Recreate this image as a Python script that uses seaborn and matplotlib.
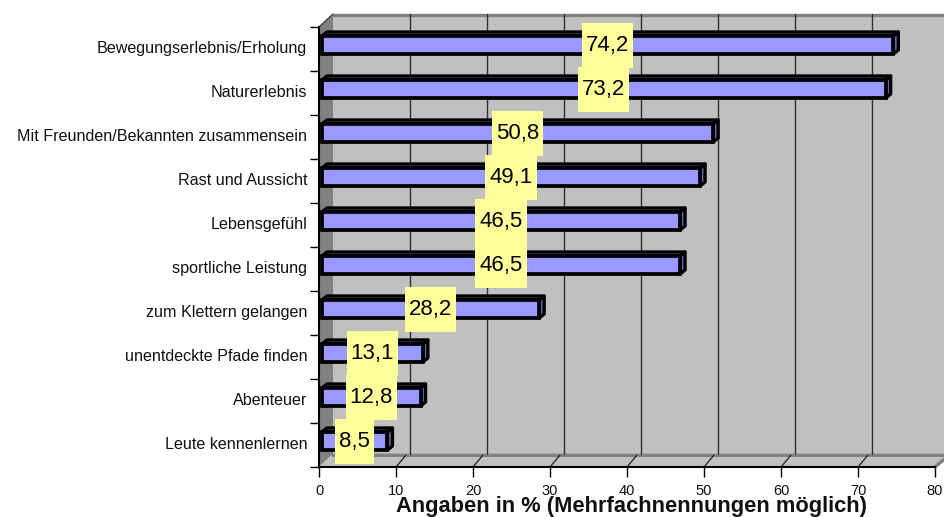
import matplotlib
matplotlib.use("Agg")
import matplotlib.pyplot as plt
from matplotlib.patches import Polygon, Rectangle
from matplotlib.transforms import IdentityTransform, ScaledTranslation
import pandas as pd
import seaborn as sns

# Data
categories = ["Bewegungserlebnis/Erholung", "Naturerlebnis",
              "Mit Freunden/Bekannten zusammensein", "Rast und Aussicht",
              "Lebensgefühl", "sportliche Leistung", "zum Klettern gelangen",
              "unentdeckte Pfade finden", "Abenteuer", "Leute kennenlernen"]
values = [74.2, 73.2, 50.8, 49.1, 46.5, 46.5, 28.2, 13.1, 12.8, 8.5]
x_ticks = [0, 10, 20, 30, 40, 50, 60, 70, 80]
x_title = "Angaben in % (Mehrfachnennungen möglich)"

sns.set_theme(style="white")
plt.rcParams["font.family"] = ["Liberation Sans", "DejaVu Sans"]

W, H = 944, 517
fig = plt.figure(figsize=(W / 100, H / 100), dpi=100)
ax = fig.add_axes([319 / W, 1 - 467 / H, 616 / W, 440 / H])

df = pd.DataFrame({"cat": categories, "val": values})
sns.barplot(data=df, y="cat", x="val", color="#9999FF", saturation=1, width=18 / 44,
            edgecolor="black", linewidth=2.7, ax=ax, zorder=5)
ax.set_xlim(0, 80)
ax.set_ylim(len(categories) - 0.5, -0.5)

# pixel sizes of the fake 3D look, converted to data units
ux, uy = 7.7, 44
wall_dx, wall_dy = 14 / ux, 13 / uy
bar_shift, bar_up = 3 / ux, 4 / uy
bar_dx, bar_dy = 5 / ux, 4 / uy
bottom, top = len(categories) - 0.5, -0.5

# walls and floor
ax.add_patch(Polygon([(0, top), (wall_dx, top - wall_dy), (80 + 2 * wall_dx, top - wall_dy),
                      (80 + 2 * wall_dx, bottom - wall_dy), (wall_dx, bottom - wall_dy)],
                     fc="#C0C0C0", ec="none", clip_on=False, zorder=0))
ax.add_patch(Polygon([(0, top), (wall_dx, top - wall_dy), (wall_dx, bottom - wall_dy), (0, bottom)],
                     fc="#808080", ec="none", clip_on=False, zorder=1))
ax.add_patch(Polygon([(0, bottom), (wall_dx, bottom - wall_dy), (80 + wall_dx, bottom - wall_dy), (80, bottom)],
                     fc="#C0C0C0", ec="none", clip_on=False, zorder=1))
ax.plot([wall_dx, 80 + 2 * wall_dx], [top - wall_dy + 0.03] * 2, color="#808080", lw=2.4, clip_on=False, zorder=1)
ax.plot([wall_dx, 80 + wall_dx, 80], [bottom - wall_dy + 0.03, bottom - wall_dy + 0.03, bottom],
        color="#808080", lw=2.4, clip_on=False, zorder=1)
ax.plot([0, wall_dx], [top, top - wall_dy], color="#404040", lw=1, clip_on=False, zorder=2)

# gridlines on the back wall, with the short slant on the floor
for t in x_ticks[1:-1]:
    ax.plot([t + wall_dx] * 2, [top - wall_dy, bottom - wall_dy], color="#303030", lw=1, clip_on=False, zorder=2)
    ax.plot([t, t + wall_dx * 0.7], [bottom, bottom - wall_dy * 0.9], color="#202020", lw=0.9, clip_on=False, zorder=2)

# move the bars and add the top and side faces
for bar in ax.patches:
    if not isinstance(bar, Rectangle) or bar.get_zorder() != 5:
        continue
    bar.set_x(bar_shift)
    bar.set_y(bar.get_y() - bar_up)
    bar.set_clip_on(False)
    x0, x1 = bar_shift, bar_shift + bar.get_width()
    y0, y1 = bar.get_y(), bar.get_y() + bar.get_height()
    ax.add_patch(Polygon([(x0, y0), (x0 + bar_dx, y0 - bar_dy), (x1 + bar_dx, y0 - bar_dy), (x1, y0)],
                         fc="#6666B8", ec="black", lw=2.4, joinstyle="round", clip_on=False, zorder=4))
    ax.add_patch(Polygon([(x1, y0), (x1 + bar_dx, y0 - bar_dy), (x1 + bar_dx, y1 - bar_dy), (x1, y1)],
                         fc="#6666B8", ec="black", lw=2.4, joinstyle="round", clip_on=False, zorder=4))

# axes
ax.set_xlabel("")
ax.set_ylabel("")
ax.set_xticks(x_ticks)
ax.set_yticks(range(len(categories)))
ax.set_yticks([i - 0.5 for i in range(len(categories) + 1)], minor=True)
ax.set_yticklabels(categories)
ax.tick_params(axis="y", which="major", length=0, pad=8.5, labelsize=11.65, labelcolor="#111111")
ax.tick_params(axis="y", which="minor", length=6.5, width=1, color="black", left=True)
ax.tick_params(axis="x", length=7, width=1, color="black", bottom=True, pad=5, labelsize=10.5, labelcolor="#111111")
for lbl in ax.get_yticklabels():
    lbl.set_transform(lbl.get_transform() + ScaledTranslation(0, 1.5 / 100, fig.dpi_scale_trans))
for side in ["top", "right"]:
    ax.spines[side].set_visible(False)
for side in ["left", "bottom"]:
    ax.spines[side].set_color("black")
    ax.spines[side].set_linewidth(1.5)
    ax.spines[side].set_zorder(3)
ax.set_facecolor("none")

ax.text((632 - 319) / 616, -0.0895, x_title, transform=ax.transAxes, ha="center", va="center",
        fontsize=15.75, fontweight="bold", color="#111111", zorder=10)

# yellow data labels: box is wider than the text by a fixed pixel pad
fig.canvas.draw()
renderer = fig.canvas.get_renderer()
label_up = 3 / uy
for i, v in enumerate(values):
    xc = bar_shift + v / 2
    label = ax.text(xc, i - label_up, f"{v:.1f}".replace(".", ","), ha="center", va="center",
                    fontsize=16, color="black", zorder=8, clip_on=False)
    box = label.get_window_extent(renderer)
    px, py = ax.transData.transform((xc, i - label_up))
    ax.add_patch(Rectangle((px - box.width / 2 - 4, py - 22.5), box.width + 8, 45, fc="#FFFF99", ec="none",
                           transform=IdentityTransform(), clip_on=False, zorder=7))

fig.savefig("out.png", dpi=100)
